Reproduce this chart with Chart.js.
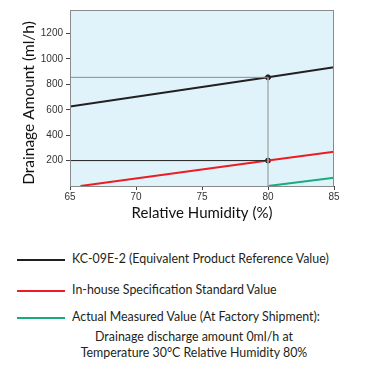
<!DOCTYPE html>
<html>
<head>
<meta charset="utf-8">
<script src="https://cdn.jsdelivr.net/npm/chart.js@4.4.1/dist/chart.umd.min.js"></script>
<style>
  html, body { margin:0; padding:0; background:#fff; width:384px; height:382px; overflow:hidden; }
  #wrap { position:absolute; left:0; top:0; width:384px; height:230px; }
  .leg { position:absolute; font-family: Lato, "Open Sans", sans-serif; font-size:12.4px; color:#231f20; white-space:nowrap; }
  .sw { position:absolute; left:17px; width:48px; height:2px; }
  .note { position:absolute; left:0; width:388px; text-align:center; font-family: Lato, sans-serif; font-size:12.4px; color:#231f20; line-height:15.5px; }
</style>
</head>
<body>
<div id="wrap"><canvas id="c" width="384" height="230"></canvas></div>

<div class="sw" style="top:259px;background:#231f20"></div>
<div class="leg" style="left:72px;top:251px">KC-09E-2 (Equivalent Product Reference Value)</div>
<div class="sw" style="top:290px;background:#ed1c24"></div>
<div class="leg" style="left:72px;top:282px">In-house Specification Standard Value</div>
<div class="sw" style="top:317px;background:#1aab7a"></div>
<div class="leg" style="left:72px;top:309px">Actual Measured Value (At Factory Shipment):</div>
<div class="note" style="top:329px">Drainage discharge amount 0ml/h at<br>Temperature 30°C Relative Humidity 80%</div>

<script>
// ---- data ----
const kcHumidity = [65, 80, 85];
const kcValues = [625, 855, 935];
const specHumidity = [65.8, 80, 85];
const specValues = [0, 200, 270];
const actualHumidity = [80, 85];
const actualValues = [0, 65];
const markerHumidity = [80, 80];
const markerValues = [855, 200];
const xTicks = [65, 70, 75, 80, 85];
const yTicks = [200, 400, 600, 800, 1000, 1200];
const xTitle = "Relative Humidity (%)";
const yTitle = "Drainage Amount (ml/h)";

const pts = (xs, ys) => xs.map((x, i) => ({x: x, y: ys[i]}));

const areaPlugin = {
  id: 'area',
  beforeDatasetsDraw(chart) {
    const {ctx, chartArea: a} = chart;
    ctx.save();
    ctx.fillStyle = '#e0f3fa';
    ctx.fillRect(a.left, a.top, a.right - a.left, a.bottom - a.top);
    ctx.restore();
  },
  afterDatasetsDraw(chart) {
    const {ctx, chartArea: a} = chart;
    ctx.save();
    ctx.strokeStyle = '#8a8a8a';
    ctx.lineWidth = 1;
    ctx.strokeRect(a.left + 0.5, a.top + 0.5, a.right - a.left - 1, a.bottom - a.top);
    ctx.restore();
  }
};

// y-axis title drawn slightly below the axis centre, as in the reference
const yTitlePlugin = {
  id: 'yTitle',
  afterDraw(chart) {
    const {ctx, chartArea: a} = chart;
    ctx.save();
    ctx.translate(29, (a.top + a.bottom) / 2 + 5);
    ctx.rotate(-Math.PI / 2);
    ctx.font = '15.5px Lato';
    ctx.fillStyle = '#111';
    ctx.textAlign = 'center';
    ctx.textBaseline = 'middle';
    ctx.fillText(yTitle, 0, 0);
    ctx.restore();
  }
};

new Chart(document.getElementById('c'), {
  type: 'line',
  data: {
    datasets: [
      { data: pts([kcHumidity[0], markerHumidity[0]], [markerValues[0], markerValues[0]]), borderColor: '#8a8f93', borderWidth: 1, pointRadius: 0 },
      { data: pts([markerHumidity[0], markerHumidity[0]], [0, markerValues[0]]), borderColor: '#a9b0b5', borderWidth: 1.5, pointRadius: 0 },
      { data: pts([kcHumidity[0], markerHumidity[1]], [markerValues[1], markerValues[1]]), borderColor: '#231f20', borderWidth: 1, pointRadius: 0 },
      { data: pts(kcHumidity, kcValues), borderColor: '#231f20', borderWidth: 2, pointRadius: 0 },
      { data: pts(specHumidity, specValues), borderColor: '#ed1c24', borderWidth: 2, pointRadius: 0 },
      { data: pts(actualHumidity, actualValues), borderColor: '#1aab7a', borderWidth: 2, pointRadius: 0 },
      { data: pts(markerHumidity, markerValues), showLine: false, pointRadius: 2.5, pointBackgroundColor: '#231f20', pointBorderColor: '#231f20', pointBorderWidth: 1 }
    ]
  },
  options: {
    responsive: false,
    animation: false,
    layout: { padding: { top: 10, right: 50, left: 0, bottom: 0 } },
    plugins: { legend: { display: false }, tooltip: { enabled: false } },
    elements: { line: { tension: 0 } },
    scales: {
      x: {
        type: 'linear', min: 65, max: 85,
        afterFit(s) { s.height = 44; },
        afterBuildTicks(s) { s.ticks = xTicks.map(v => ({value: v})); },
        grid: { display: true, drawOnChartArea: false, drawTicks: true, tickLength: 4, color: '#444', lineWidth: 1 },
        border: { display: false },
        ticks: { color: '#333', font: { family: 'Liberation Sans', size: 10 }, padding: 1, maxRotation: 0, callback: v => String(v) },
        title: { display: true, text: xTitle, color: '#111', font: { family: 'Lato', size: 15 }, padding: { top: 0, bottom: 8 } }
      },
      y: {
        type: 'linear', min: 0, max: 1385,
        afterFit(s) { s.width = 70; },
        afterBuildTicks(s) { s.ticks = yTicks.map(v => ({value: v})); },
        grid: { display: true, drawOnChartArea: false, drawTicks: true, tickLength: 4, color: '#444', lineWidth: 1 },
        border: { display: false },
        ticks: { color: '#333', font: { family: 'Liberation Sans', size: 10 }, padding: 3, callback: v => String(v) },
        title: { display: false }
      }
    }
  },
  plugins: [areaPlugin, yTitlePlugin]
});
</script>
</body>
</html>
